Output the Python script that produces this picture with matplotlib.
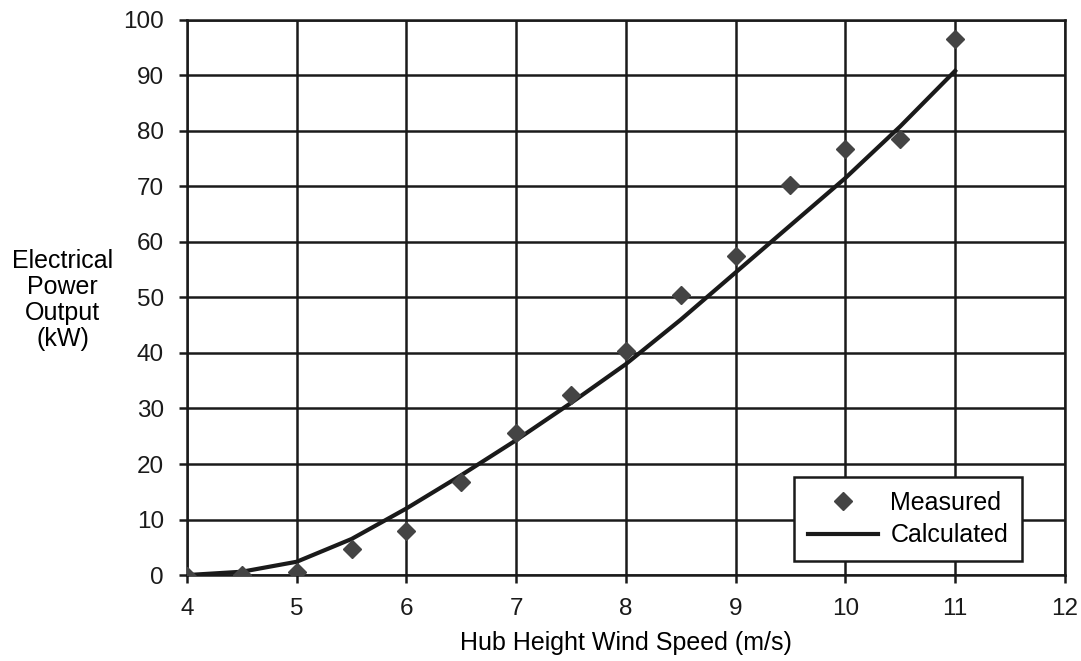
import matplotlib
matplotlib.use("Agg")
import matplotlib.pyplot as plt

plt.rcParams['font.family'] = ['Liberation Sans', 'DejaVu Sans']

wind_measured = [4, 4.5, 5, 5.5, 6, 6.5, 7, 7.5, 8, 8.5, 9, 9.5, 10, 10.5, 11]
power_measured = [-0.2, 0.1, 0.5, 4.7, 8.0, 16.8, 25.6, 32.5, 40.4, 50.5, 57.4, 70.2, 76.7, 78.5, 96.5]

wind_calc = [4, 4.5, 5, 5.5, 6, 6.5, 7, 7.5, 8, 8.5, 9, 9.5, 10, 10.5, 11]
power_calc = [0.0, 0.6, 2.4, 6.5, 12.0, 18.0, 24.3, 31.0, 38.0, 46.0, 54.5, 63.0, 71.5, 80.8, 90.8]

x_ticks = [4, 5, 6, 7, 8, 9, 10, 11, 12]
y_ticks = [0, 10, 20, 30, 40, 50, 60, 70, 80, 90, 100]

fig = plt.figure(figsize=(10.81, 6.61), dpi=100)
ax = fig.add_axes([0.173, 0.130, 0.812, 0.840])

ax.plot(wind_calc, power_calc, color='#1a1a1a', lw=3.0, label='Calculated', zorder=3)
ax.plot(wind_measured, power_measured, linestyle='none', marker='D', ms=9,
        color='#444444', markeredgecolor='#444444', label='Measured', zorder=4)

ax.set_xlim(4, 12)
ax.set_ylim(0, 100)
ax.set_xticks(x_ticks)
ax.set_yticks(y_ticks)
ax.tick_params(axis='both', labelsize=17.5, direction='out', length=5.5, width=1.8, colors='#1a1a1a', pad=11)
ax.grid(True, color='#1a1a1a', lw=1.8)
ax.set_axisbelow(True)
for s in ax.spines.values():
    s.set_linewidth(1.8)
    s.set_color('#1a1a1a')

ax.set_xlabel('Hub Height Wind Speed (m/s)', fontsize=18, labelpad=8)
fig.text(0.058, 0.546, 'Electrical\nPower\nOutput\n(kW)', ha='center', va='center',
         fontsize=18, linespacing=1.1)

handles, labels = ax.get_legend_handles_labels()
leg = ax.legend([handles[1], handles[0]], [labels[1], labels[0]],
                loc='lower right', bbox_to_anchor=(0.951, 0.025), fontsize=18,
                frameon=True, fancybox=False, edgecolor='#1a1a1a', framealpha=1,
                borderpad=0.55, handlelength=2.8, handletextpad=0.5,
                labelspacing=0.35, borderaxespad=0)
leg.get_frame().set_linewidth(1.8)

fig.savefig('out.png', dpi=100)
